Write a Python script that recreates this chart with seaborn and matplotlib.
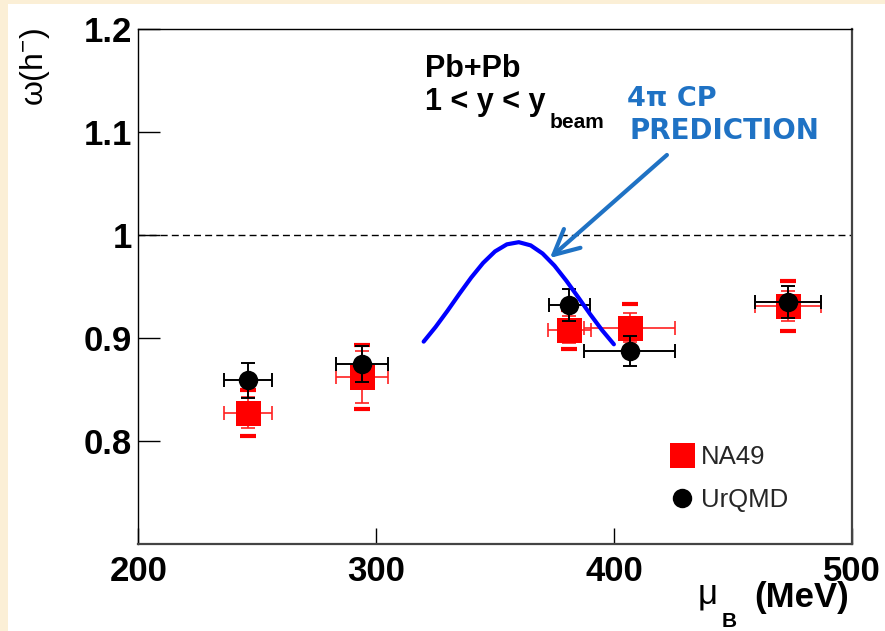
import matplotlib
matplotlib.use("Agg")
import matplotlib.pyplot as plt
from matplotlib.lines import Line2D
from matplotlib.patches import Rectangle
import seaborn as sns

# NA49 Pb+Pb, 1 < y < y_beam: scaled variance of negative hadrons
na49_mu = [246.2, 294.2, 381.3, 406.6, 473.3]
na49_mu_err = [10.0, 11.0, 9.0, 19.0, 13.8]
na49_omega = [0.827, 0.862, 0.908, 0.910, 0.931]
na49_stat = [0.015, 0.025, 0.013, 0.014, 0.015]
na49_syst = [0.022, 0.031, 0.019, 0.023, 0.024]

# UrQMD model values at the same energies
urqmd_mu = [246.2, 294.2, 381.3, 406.6, 473.3]
urqmd_mu_err = [10.0, 11.0, 8.8, 19.0, 13.8]
urqmd_omega = [0.8585, 0.875, 0.932, 0.887, 0.935]
urqmd_err = [0.017, 0.0175, 0.0155, 0.0144, 0.0154]

# 4pi critical point prediction
cp_mu = [320, 325, 330, 335, 340, 345, 350, 355, 360,
         365, 370, 375, 380, 385, 390, 395, 400]
cp_omega = [0.8963, 0.9105, 0.9262, 0.9427, 0.9586, 0.9728, 0.9840, 0.9909, 0.9930,
            0.9899, 0.9820, 0.9702, 0.9555, 0.9394, 0.9230, 0.9075, 0.8937]

x_ticks = [200, 300, 400, 500]
x_tick_labels = ["200", "300", "400", "500"]
y_ticks = [0.8, 0.9, 1.0, 1.1, 1.2]
y_tick_labels = ["0.8", "0.9", "1", "1.1", "1.2"]
legend_labels = ["NA49", "UrQMD"]

sns.set_theme(style="white")
plt.rcParams["font.family"] = ["Liberation Sans", "DejaVu Sans"]
plt.rcParams["mathtext.fontset"] = "custom"
plt.rcParams["mathtext.rm"] = "Liberation Sans"
plt.rcParams["mathtext.bf"] = "Liberation Sans:bold"
plt.rcParams["mathtext.it"] = "Liberation Sans:italic"

W, H = 885, 631
fig = plt.figure(figsize=(W / 100, H / 100), dpi=100, facecolor="#FBEFD6")
fig.add_artist(Rectangle((8 / W, 0), 1 - 8 / W, 1 - 4 / H, transform=fig.transFigure,
                         facecolor="white", edgecolor="none", zorder=-1))

left, right, top, bottom = 138.3, 851.7, 29.3, 543.5
ax = fig.add_axes([left / W, 1 - bottom / H, (right - left) / W, (bottom - top) / H])
ax.set_facecolor("white")
ax.set_xlim(200, 500)
ax.set_ylim(0.7, 1.2)

ax.axhline(1.0, color="black", lw=1.0, ls=(0, (5, 3)), zorder=1)

# NA49: statistical errors, systematic caps, markers
ax.errorbar(na49_mu, na49_omega, xerr=na49_mu_err, yerr=na49_stat, fmt="none",
            ecolor="#ff2020", elinewidth=1.2, capsize=5, capthick=1.2, zorder=2)
ax.errorbar(na49_mu, na49_omega, yerr=na49_syst, fmt="none",
            ecolor="#ff0000", elinewidth=0, capsize=5.5, capthick=3, zorder=2)
sns.scatterplot(x=na49_mu, y=na49_omega, marker="s", s=324, color="#ff0000",
                linewidth=0, ax=ax, zorder=3)

# UrQMD
ax.errorbar(urqmd_mu, urqmd_omega, xerr=urqmd_mu_err, yerr=urqmd_err, fmt="none",
            ecolor="black", elinewidth=1.4, capsize=4.8, capthick=1.4, zorder=4)
sns.scatterplot(x=urqmd_mu, y=urqmd_omega, marker="o", s=196, color="black",
                linewidth=0, ax=ax, zorder=5)

# critical point curve
sns.lineplot(x=cp_mu, y=cp_omega, color="#0000ff", lw=3, sort=False,
             estimator=None, ax=ax, zorder=6)

# axes styling
for s in ["left", "top"]:
    ax.spines[s].set_color("black")
    ax.spines[s].set_linewidth(1.0)
for s in ["right", "bottom"]:
    ax.spines[s].set_color("#444444")
    ax.spines[s].set_linewidth(1.6)

ax.set_xticks(x_ticks, x_tick_labels)
ax.set_yticks(y_ticks, y_tick_labels)
ax.tick_params(axis="x", direction="in", length=11.5, width=1, pad=8, labelsize=25,
               bottom=True, top=False, color="black", labelcolor="black")
ax.tick_params(axis="y", direction="in", length=15.6, width=1, pad=4.8, labelsize=25,
               left=True, right=False, color="black", labelcolor="black")
for lab in ax.get_xticklabels() + ax.get_yticklabels():
    lab.set_fontweight("bold")
ax.set_xlabel("")
ax.set_ylabel("")

# axis titles
fig.text(35 / W, 1 - 67 / H, "ω(h$^{\\mathregular{-}}$)", rotation=90, fontsize=23,
         ha="center", va="center", color="black")
fig.text(849 / W, 1 - 607 / H, "(MeV)", fontsize=25, fontweight="bold",
         ha="right", va="baseline", color="black")
fig.text(698 / W, 1 - 603 / H, "μ", fontsize=25, ha="left", va="baseline", color="black")
fig.text(722 / W, 1 - 627 / H, "B", fontsize=15, fontweight="bold",
         ha="left", va="baseline", color="black")

# annotations
ax.text(320.6, 1.1536, "Pb+Pb", fontsize=22, fontweight="bold", ha="left",
        va="baseline", color="black")
ax.text(320.6, 1.1215, "1 < y < y", fontsize=22, fontweight="bold",
        ha="left", va="baseline", color="black")
ax.text(373.1, 1.104, "beam", fontsize=15, fontweight="bold",
        ha="left", va="baseline", color="black")

blue = "#1f72c4"
ax.text(405.5, 1.1254, "4π CP", fontsize=19.5, fontweight="bold", ha="left",
        va="baseline", color=blue, family="DejaVu Sans")
ax.text(406.7, 1.0933, "PREDICTION", fontsize=20, fontweight="bold", ha="left",
        va="baseline", color=blue, family="DejaVu Sans")
ax.annotate("", xy=(373.1, 0.9776), xytext=(422.3, 1.0778),
            arrowprops=dict(arrowstyle="->,head_length=0.9,head_width=0.45",
                            color=blue, lw=3, mutation_scale=20, shrinkA=0, shrinkB=0),
            zorder=7)

handles = [Line2D([], [], marker="s", color="#ff0000", ls="none", markersize=18,
                  markeredgewidth=0),
           Line2D([], [], marker="o", color="black", ls="none", markersize=14,
                  markeredgewidth=0)]
ax.legend(handles, legend_labels, loc="upper left", bbox_to_anchor=(0.744, 0.192),
          frameon=False, fontsize=18.5, handlelength=1.0, handletextpad=0.25,
          borderpad=0, borderaxespad=0, labelspacing=0.73)

fig.savefig("out.png", dpi=100, facecolor=fig.get_facecolor())
